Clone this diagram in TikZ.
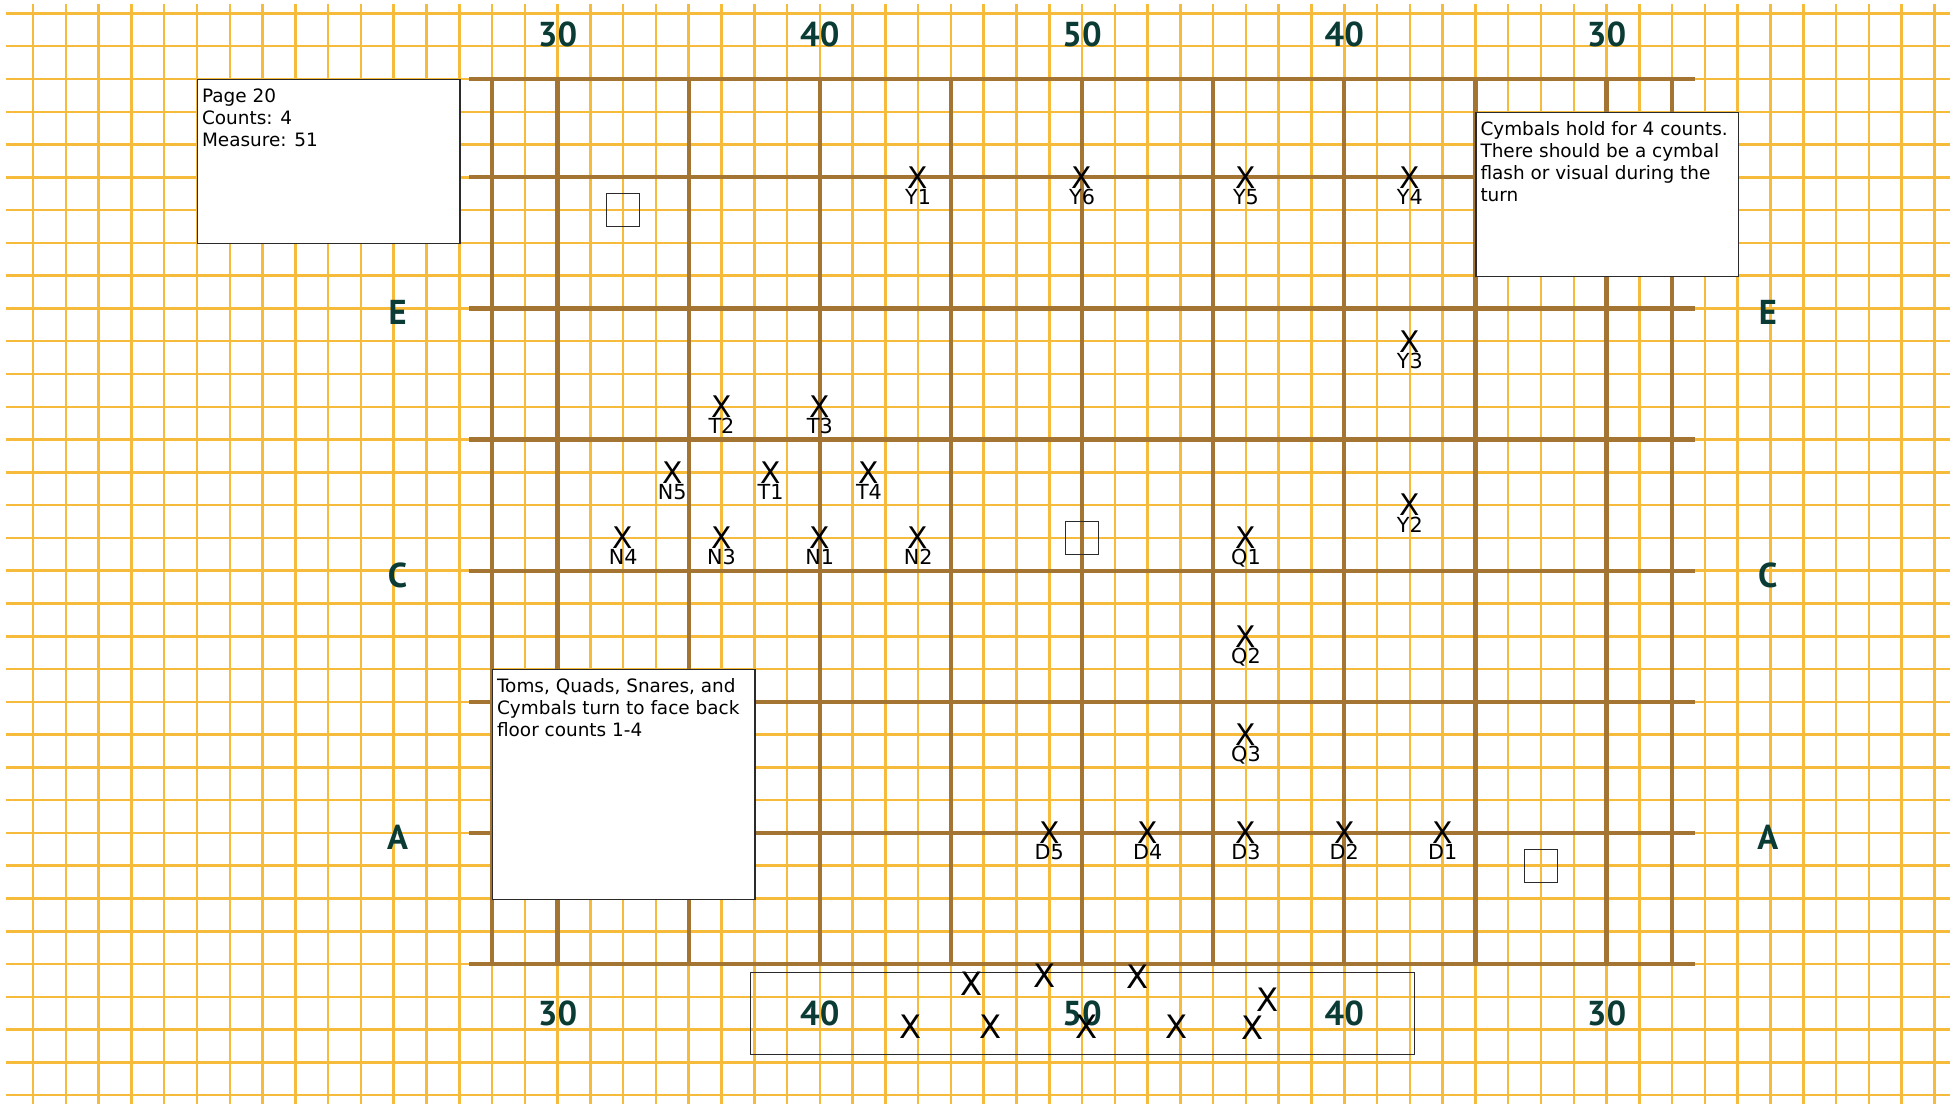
\documentclass[tikz,border=0pt]{standalone}
\usepackage{fontspec}
\setmainfont{DejaVu Sans}
\newfontfamily\yardfont{PT Sans}
\usetikzlibrary{positioning}
\definecolor{gridorange}{HTML}{F7BB3B}
\definecolor{fieldbrown}{HTML}{A37432}
\definecolor{markteal}{HTML}{0B3B35}
\definecolor{boxgray}{HTML}{2B2B2B}
\tikzset{
  minorline/.style={draw=gridorange,line width=1.1pt},
  fieldline/.style={draw=fieldbrown,line width=1.85pt},
  yardnum/.style={text=markteal,inner sep=0pt,font=\yardfont\bfseries\fontsize{15}{18}\selectfont},
  sideletter/.style={yardnum},
  notebox/.style={draw=boxgray,line width=0.6pt,fill=white,inner sep=0pt,anchor=north west,minimum width=40mm},
  notetext/.style={anchor=north west,align=left,inner xsep=2pt,inner ysep=4pt,font=\fontsize{8}{9.6}\selectfont},
  marcher/.style={inner sep=0pt,label distance=0.4pt,font=\fontsize{12.9}{14}\selectfont},
  pitmarcher/.style={marcher,font=\fontsize{14}{15}\selectfont},
  tag/.style={inner sep=0pt,text height=6.6pt,text depth=0pt,font=\fontsize{9}{10}\selectfont},
  spot/.style={draw=boxgray,line width=0.5pt,minimum size=5mm,inner sep=0pt},
  pitbox/.style={draw=boxgray,line width=0.5pt,inner sep=0pt,anchor=north west}
}
\begin{document}
\begin{tikzpicture}[x=5mm,y=5mm]
  \useasboundingbox (-15.01,2.41) rectangle (44.66,-31.39);
  \fill[white] (-15.01,2.41) rectangle (44.66,-31.39);
  % step grid
  \draw[minorline,step=5mm] (-14.83,-31.27) grid (44.48,2.29);
  % yard lines and hashes
  \foreach \i in {0,2,6,10,14,18,22,26,30,34,36}
    \draw[fieldline] (\i,0) -- (\i,-27);
  \foreach \j in {0,3,7,11,15,19,23,27}
    \draw[fieldline] (-0.7,-\j) -- (36.7,-\j);

  \node[yardnum] (top30l) at (2,1.35) {30};
  \node[yardnum] (top40l) at (10,1.35) {40};
  \node[yardnum] (top50) at (18,1.35) {50};
  \node[yardnum] (top40r) at (26,1.35) {40};
  \node[yardnum] (top30r) at (34,1.35) {30};
  \node[yardnum] (bot30l) at (2,-28.5) {30};
  \node[yardnum] (bot40l) at (10,-28.5) {40};
  \node[yardnum] (bot50) at (18,-28.5) {50};
  \node[yardnum] (bot40r) at (26,-28.5) {40};
  \node[yardnum] (bot30r) at (34,-28.5) {30};

  \node[sideletter] (leftE) at (-2.88,-7.13) {E};
  \node[sideletter] (leftC) at (-2.88,-15.13) {C};
  \node[sideletter] (leftA) at (-2.88,-23.13) {A};
  \node[sideletter] (rightE) at (38.92,-7.13) {E};
  \node[sideletter] (rightC) at (38.92,-15.13) {C};
  \node[sideletter] (rightA) at (38.92,-23.13) {A};

  \node[spot] (spotE) at (4,-4) {};
  \node[spot] (spotC) at (18,-14) {};
  \node[spot] (spotA) at (32,-24) {};

  % cymbals
  \node[marcher,label={[tag]below:Y1}] (Y1) at (13,-3) {X};
  \node[marcher,label={[tag]below:Y6}] (Y6) at (18,-3) {X};
  \node[marcher,label={[tag]below:Y5}] (Y5) at (23,-3) {X};
  \node[marcher,label={[tag]below:Y4}] (Y4) at (28,-3) {X};
  \node[marcher,label={[tag]below:Y3}] (Y3) at (28,-8) {X};
  \node[marcher,label={[tag]below:Y2}] (Y2) at (28,-13) {X};
  % toms and snares
  \node[marcher,label={[tag]below:T2}] (T2) at (7,-10) {X};
  \node[marcher,label={[tag]below:T3}] (T3) at (10,-10) {X};
  \node[marcher,label={[tag]below:N5}] (N5) at (5.5,-12) {X};
  \node[marcher,label={[tag]below:T1}] (T1) at (8.5,-12) {X};
  \node[marcher,label={[tag]below:T4}] (T4) at (11.5,-12) {X};
  \node[marcher,label={[tag]below:N4}] (N4) at (4,-14) {X};
  \node[marcher,label={[tag]below:N3}] (N3) at (7,-14) {X};
  \node[marcher,label={[tag]below:N1}] (N1) at (10,-14) {X};
  \node[marcher,label={[tag]below:N2}] (N2) at (13,-14) {X};
  % quads and basses
  \node[marcher,label={[tag]below:Q1}] (Q1) at (23,-14) {X};
  \node[marcher,label={[tag]below:Q2}] (Q2) at (23,-17) {X};
  \node[marcher,label={[tag]below:Q3}] (Q3) at (23,-20) {X};
  \node[marcher,label={[tag]below:D5}] (D5) at (17,-23) {X};
  \node[marcher,label={[tag]below:D4}] (D4) at (20,-23) {X};
  \node[marcher,label={[tag]below:D3}] (D3) at (23,-23) {X};
  \node[marcher,label={[tag]below:D2}] (D2) at (26,-23) {X};
  \node[marcher,label={[tag]below:D1}] (D1) at (29,-23) {X};

  % front ensemble
  \node[pitbox,minimum width=101.35mm,minimum height=12.45mm] (pit) at (7.86,-27.24) {};
  \node[pitmarcher] (pitA) at (14.63,-27.6) {X};
  \node[pitmarcher] (pitB) at (16.85,-27.36) {X};
  \node[pitmarcher] (pitC) at (19.69,-27.4) {X};
  \node[pitmarcher] (pitD) at (23.65,-28.1) {X};
  \node[pitmarcher] (pitE) at (12.77,-28.9) {X};
  \node[pitmarcher] (pitF) at (15.2,-28.9) {X};
  \node[pitmarcher] (pitG) at (18.15,-28.9) {X};
  \node[pitmarcher] (pitH) at (20.88,-28.9) {X};
  \node[pitmarcher] (pitI) at (23.2,-28.95) {X};

  \node[notebox,minimum height=25mm] (pagebox) at (-9,0) {};
  \node[notetext] (pageinfo) at (pagebox.north west) {Page 20\\Counts: 4\\Measure: 51};
  \node[notebox,minimum height=25mm] (cymbalbox) at (30,-1) {};
  \node[notetext] (cymbalnote) at (cymbalbox.north west) {Cymbals hold for 4 counts.\\There should be a cymbal\\flash or visual during the\\turn};
  \node[notebox,minimum height=35mm] (turnbox) at (0,-18) {};
  \node[notetext] (turnnote) at (turnbox.north west) {Toms, Quads, Snares, and\\Cymbals turn to face back\\floor counts 1-4};
\end{tikzpicture}
\end{document}
